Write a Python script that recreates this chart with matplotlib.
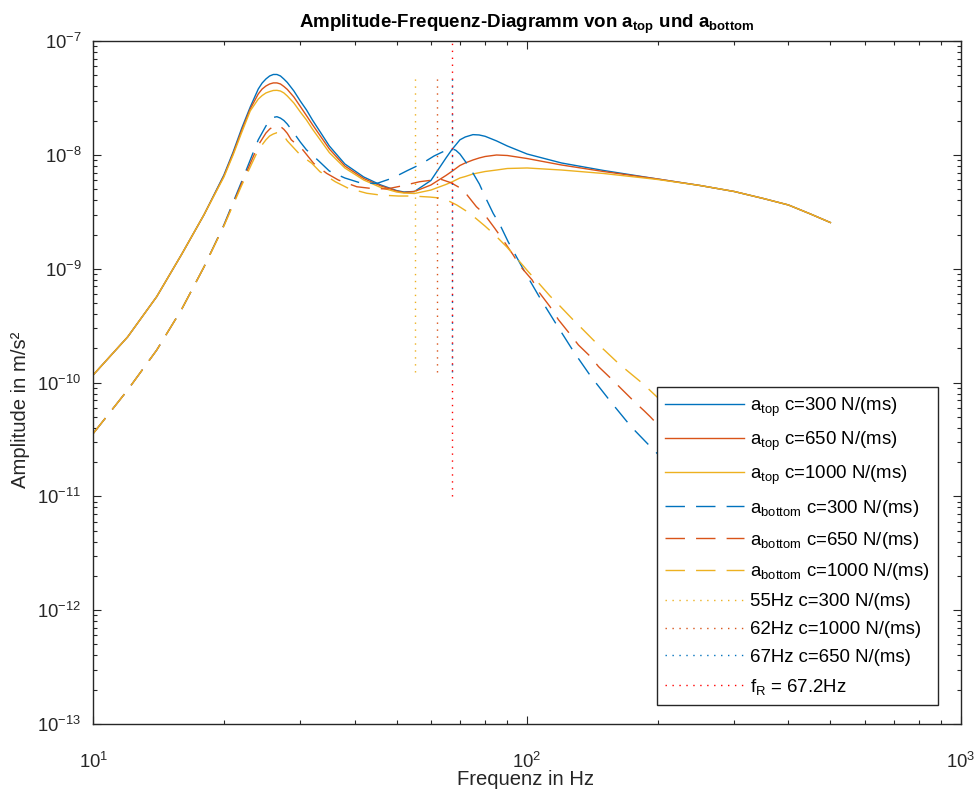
import numpy as np
import matplotlib
matplotlib.use('Agg')
import matplotlib.pyplot as plt
from matplotlib.ticker import LogLocator, NullFormatter

plt.rcParams.update({
    'font.family': ['Liberation Sans', 'DejaVu Sans'],
    'mathtext.fontset': 'custom',
    'mathtext.rm': 'Liberation Sans',
    'mathtext.it': 'Liberation Sans:italic',
    'mathtext.bf': 'Liberation Sans:bold',
    'mathtext.default': 'regular',
    'axes.unicode_minus': False,
})

# ---------------- data ----------------
f_top = [10, 12, 14, 16, 18, 20, 21, 22, 23, 24, 24.5, 25, 25.5, 26, 26.5, 27, 27.5, 28, 29, 30, 31, 32,
         35, 38, 42, 46, 50, 52, 55, 60, 65, 67, 70, 72, 75, 77.5, 80, 85, 90, 100, 120, 150, 200, 250,
         300, 350, 400, 450, 500]
a_top_300 = [1.17e-10, 2.52e-10, 5.69e-10, 1.35e-9, 2.99e-9, 6.67e-9, 1.06e-8, 1.73e-8, 2.64e-8, 3.80e-8,
             4.29e-8, 4.66e-8, 4.95e-8, 5.10e-8, 5.10e-8, 4.95e-8, 4.65e-8, 4.34e-8, 3.65e-8, 2.98e-8,
             2.49e-8, 2.03e-8, 1.20e-8, 8.34e-9, 6.41e-9, 5.45e-9, 4.87e-9, 4.73e-9, 4.78e-9, 5.97e-9,
             9.41e-9, 1.11e-8, 1.36e-8, 1.44e-8, 1.51e-8, 1.50e-8, 1.46e-8, 1.33e-8, 1.20e-8, 1.02e-8,
             8.51e-9, 7.31e-9, 6.15e-9, 5.40e-9, 4.78e-9, 4.15e-9, 3.64e-9, 3.03e-9, 2.55e-9]
a_top_650 = [1.17e-10, 2.52e-10, 5.69e-10, 1.35e-9, 2.99e-9, 6.53e-9, 1.03e-8, 1.66e-8, 2.54e-8, 3.44e-8,
             3.80e-8, 4.04e-8, 4.21e-8, 4.30e-8, 4.30e-8, 4.21e-8, 4.00e-8, 3.77e-8, 3.23e-8, 2.67e-8,
             2.22e-8, 1.85e-8, 1.13e-8, 8.00e-9, 6.21e-9, 5.35e-9, 4.83e-9, 4.68e-9, 4.78e-9, 5.45e-9,
             6.61e-9, 7.16e-9, 8.09e-9, 8.51e-9, 9.04e-9, 9.41e-9, 9.70e-9, 1.00e-8, 9.90e-9, 9.31e-9,
             8.17e-9, 7.16e-9, 6.15e-9, 5.40e-9, 4.78e-9, 4.15e-9, 3.64e-9, 3.03e-9, 2.55e-9]
a_top_1000 = [1.17e-10, 2.52e-10, 5.69e-10, 1.35e-9, 2.99e-9, 6.41e-9, 1.00e-8, 1.59e-8, 2.44e-8, 3.10e-8,
              3.33e-8, 3.51e-8, 3.61e-8, 3.69e-8, 3.70e-8, 3.65e-8, 3.51e-8, 3.30e-8, 2.86e-8, 2.39e-8,
              2.03e-8, 1.69e-8, 1.05e-8, 7.69e-9, 6.03e-9, 5.18e-9, 4.73e-9, 4.63e-9, 4.59e-9, 4.92e-9,
              5.51e-9, 5.79e-9, 6.28e-9, 6.47e-9, 6.81e-9, 6.99e-9, 7.16e-9, 7.38e-9, 7.61e-9, 7.69e-9,
              7.38e-9, 6.88e-9, 6.09e-9, 5.40e-9, 4.78e-9, 4.15e-9, 3.64e-9, 3.03e-9, 2.55e-9]

f_bot_300 = [10, 12, 14, 16, 18, 20, 22, 23, 24, 25, 25.5, 26, 26.5, 27, 27.5, 28, 29, 30, 31, 33, 35, 38,
             41, 45, 49, 53, 57, 61, 65, 66, 67, 68.5, 70, 73.6, 77.6, 80, 83.5, 86.6, 90.4, 98.2, 106.6,
             117, 128, 140.3, 155.8, 173.6, 192.3, 250, 350, 500]
a_bot_300 = [3.58e-11, 8.61e-11, 1.93e-10, 4.44e-10, 1.04e-9, 2.43e-9, 5.91e-9, 9.04e-9, 1.36e-8, 1.80e-8,
             2.01e-8, 2.14e-8, 2.17e-8, 2.11e-8, 2.01e-8, 1.87e-8, 1.56e-8, 1.30e-8, 1.11e-8, 8.95e-9,
             7.23e-9, 6.28e-9, 5.73e-9, 5.62e-9, 6.28e-9, 7.31e-9, 8.34e-9, 9.80e-9, 1.10e-8, 1.13e-8,
             1.14e-8, 1.10e-8, 1.02e-8, 7.84e-9, 5.56e-9, 4.30e-9, 3.07e-9, 2.43e-9, 1.73e-9, 9.76e-10,
             5.69e-10, 3.21e-10, 1.87e-10, 1.13e-10, 6.79e-11, 4.10e-11, 2.74e-11, 1.0e-11, 3.1e-12,
             1.0e-12]

f_bot_650 = [10, 12, 14, 16, 18, 20, 22, 24, 25, 25.5, 26, 26.5, 27, 27.5, 28, 28.6, 30.4, 32.2, 34.5,
             36.7, 40.5, 43.4, 47.5, 51.4, 56.6, 60.8, 63.5, 66.7, 71, 76.4, 79.4, 84.2, 88, 92.9, 96.3,
             102.7, 106.7, 112.9, 118, 125.5, 131.3, 140, 146.1, 157.5, 165.3, 177.6, 186, 192.1, 250,
             350, 500]
a_bot_650 = [3.58e-11, 8.61e-11, 1.93e-10, 4.44e-10, 1.04e-9, 2.40e-9, 5.68e-9, 1.22e-8, 1.56e-8, 1.69e-8,
             1.78e-8, 1.81e-8, 1.78e-8, 1.68e-8, 1.55e-8, 1.36e-8, 1.11e-8, 8.45e-9, 6.90e-9, 6.03e-9,
             5.26e-9, 5.10e-9, 5.03e-9, 5.35e-9, 5.83e-9, 6.03e-9, 6.09e-9, 5.71e-9, 4.99e-9, 3.51e-9,
             3.07e-9, 2.27e-9, 1.79e-9, 1.32e-9, 1.06e-9, 7.97e-10, 6.17e-10, 4.65e-10, 3.58e-10,
             2.67e-10, 2.14e-10, 1.69e-10, 1.38e-10, 1.05e-10, 8.73e-11, 6.66e-11, 5.66e-11, 5.02e-11,
             1.74e-11, 5.1e-12, 1.5e-12]

f_bot_1000 = [10, 12, 14, 16, 18, 20, 22, 24, 25, 25.5, 26, 26.5, 27, 27.5, 28, 30, 31.9, 33.3, 36.1,
              38.7, 42.7, 45.8, 50.5, 54.4, 59.7, 64.1, 68.8, 73.8, 79.9, 84.3, 89.7, 94.6, 100.6, 106.1,
              112.9, 119, 127.3, 133.6, 143.3, 151.1, 162.2, 171, 185.2, 250, 350, 500]
a_bot_1000 = [3.58e-11, 8.61e-11, 1.93e-10, 4.44e-10, 1.04e-9, 2.38e-9, 5.45e-9, 1.11e-8, 1.36e-8, 1.47e-8,
              1.53e-8, 1.57e-8, 1.56e-8, 1.47e-8, 1.33e-8, 1.00e-8, 8.45e-9, 7.13e-9, 5.83e-9, 5.10e-9,
              4.61e-9, 4.45e-9, 4.36e-9, 4.36e-9, 4.27e-9, 4.16e-9, 3.64e-9, 3.07e-9, 2.38e-9, 1.98e-9,
              1.56e-9, 1.24e-9, 9.43e-10, 7.55e-10, 5.77e-10, 4.71e-10, 3.60e-10, 3.00e-10, 2.29e-10,
              1.91e-10, 1.48e-10, 1.25e-10, 9.72e-11, 3.3e-11, 1.1e-11, 3.7e-12]

stiffness_labels = ['c=300 N/(ms)', 'c=650 N/(ms)', 'c=1000 N/(ms)']

vline_freqs = [55, 62, 67]
vline_labels = ['55Hz c=300 N/(ms)', '62Hz c=1000 N/(ms)', '67Hz c=650 N/(ms)']
vline_range = [1.25e-10, 5.2e-8]

f_R = 67.2
fR_range = [1e-11, 1e-7]

# ---------------- styling ----------------
C_BLUE, C_ORANGE, C_YELLOW, C_RED = '#0072BD', '#D95319', '#EDB120', '#FF0000'
AX_COL = '#262626'
DASH = (0, (14, 8))
DOT = (0, (1, 4))
LW = 1.0

fig = plt.figure(figsize=(9.74, 7.92), dpi=100)
ax = fig.add_axes([93.3 / 974, 1 - 724 / 792, (961 - 93.3) / 974, (724 - 41.2) / 792])

top_series = [(f_top, a_top_300), (f_top, a_top_650), (f_top, a_top_1000)]
bot_series = [(f_bot_300, a_bot_300), (f_bot_650, a_bot_650), (f_bot_1000, a_bot_1000)]
cols = [C_BLUE, C_ORANGE, C_YELLOW]

for (f, a), c, lab in zip(top_series, cols, stiffness_labels):
    ax.plot(f, a, color=c, lw=LW, label=r'$a_{top}$ ' + lab)
for (f, a), c, lab in zip(bot_series, cols, stiffness_labels):
    ax.plot(f, a, color=c, lw=LW, linestyle=DASH, label=r'$a_{bottom}$ ' + lab)

vcols = [C_YELLOW, C_ORANGE, C_BLUE]
for fv, c, lab in zip(vline_freqs, vcols, vline_labels):
    ax.plot([fv, fv], vline_range, color=c, lw=LW, linestyle=DOT, label=lab)
ax.plot([f_R, f_R], fR_range, color=C_RED, lw=LW, linestyle=DOT, label=r'$f_R$ = 67.2Hz')

ax.set_xscale('log')
ax.set_yscale('log')
ax.set_xlim(10, 1000)
ax.set_ylim(1e-13, 1e-7)

for axis in (ax.xaxis, ax.yaxis):
    axis.set_major_locator(LogLocator(base=10, numticks=20))
    axis.set_minor_locator(LogLocator(base=10, subs=np.arange(2, 10), numticks=100))
    axis.set_minor_formatter(NullFormatter())
    axis.label.set_visible(False)
    axis.get_offset_text().set_visible(False)

ax.tick_params(which='both', direction='in', top=True, right=True, color=AX_COL,
               labelcolor=AX_COL, width=0.8, labelsize=13.3)
ax.tick_params(which='major', length=5.5)
ax.tick_params(which='minor', length=3)
ax.tick_params(axis='x', which='major', pad=20)
ax.tick_params(axis='y', which='major', pad=8.5)
for s in ax.spines.values():
    s.set_color(AX_COL)
    s.set_linewidth(1.0)

fig.text(527 / 974, 1 - 28 / 792,
         r'Amplitude-Frequenz-Diagramm von $\mathbf{a_{top}}$ und $\mathbf{a_{bottom}}$',
         ha='center', va='baseline', fontsize=13.5, fontweight='bold', color='black')
fig.text(525.5 / 974, 1 - 785 / 792, 'Frequenz in Hz', ha='center', va='baseline',
         fontsize=14.6, color=AX_COL)
fig.text(21 / 974, 382.6 / 792, 'Amplitude in m/s²', rotation=90, ha='center', va='center',
         fontsize=14.6, color=AX_COL)

leg = ax.legend(loc='lower right', bbox_to_anchor=(0.9735, 0.0278), borderaxespad=0,
                fontsize=13.4, handlelength=4.2, handletextpad=0.35, borderpad=0.45,
                labelspacing=0.58, frameon=True, fancybox=False, edgecolor=AX_COL,
                framealpha=1, facecolor='white')
leg.get_frame().set_linewidth(1.0)
for t in leg.get_texts():
    t.set_color('black')

fig.savefig('out.png', dpi=100)
